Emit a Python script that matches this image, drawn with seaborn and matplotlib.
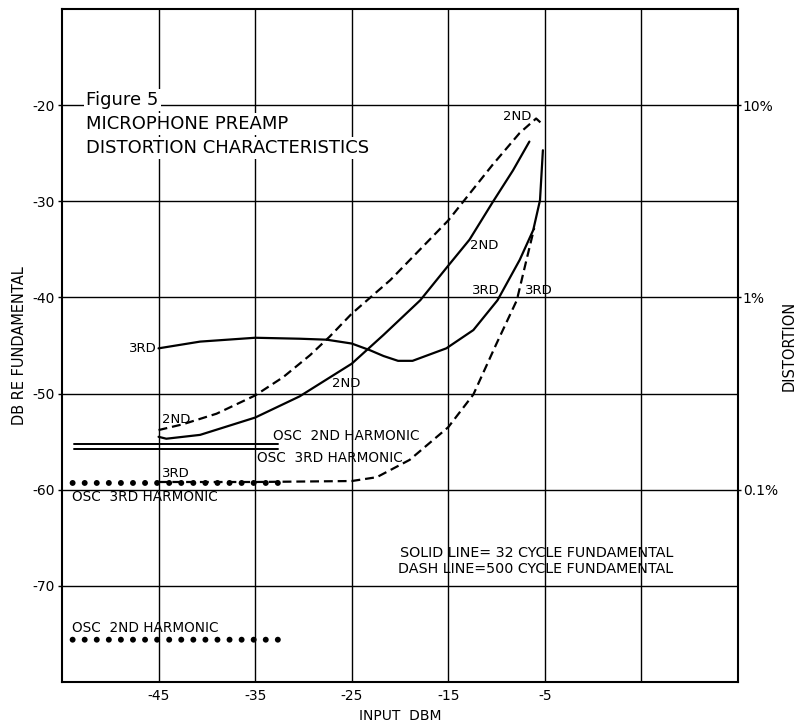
import numpy as np
import pandas as pd
import matplotlib
matplotlib.use("Agg")
import matplotlib.pyplot as plt
import seaborn as sns

# kurva distorsi
solid_2nd_x = [-45, -44.2, -40.7, -35, -30.4, -25, -21.7, -17.9, -15, -12.8, -10.4, -8.3, -6.6]
solid_2nd_y = [-54.5, -54.7, -54.3, -52.5, -50.3, -46.9, -43.9, -40.3, -36.7, -34.0, -30.1, -26.8, -23.8]

solid_3rd_x = [-45, -40.7, -35, -30.4, -27.6, -25, -23.1, -21.7, -20.2, -18.7, -15.2, -12.4, -9.9, -7.6, -6.2, -5.5, -5.2]
solid_3rd_y = [-45.3, -44.6, -44.2, -44.3, -44.4, -44.8, -45.5, -46.1, -46.6, -46.6, -45.3, -43.4, -40.3, -36.1, -33.0, -29.9, -24.7]

dash_2nd_x = [-45, -42.5, -39, -35, -32.1, -29.3, -27.3, -25, -21, -15, -10.4, -7.6, -5.9, -5.35]
dash_2nd_y = [-53.8, -53.2, -52.1, -50.2, -48.3, -46.0, -44.1, -41.7, -38.2, -32.0, -26.2, -22.9, -21.4, -21.9]

dash_3rd_x = [-45, -35, -25, -22.4, -19, -15, -12.4, -10.0, -7.9, -6.9, -6.1]
dash_3rd_y = [-59.2, -59.2, -59.1, -58.7, -56.9, -53.5, -50.1, -44.8, -40.3, -36.1, -32.8]

# harmonik osilator
osc_line_x = [-53.8, -32.6]
osc_2nd_line_y = [-55.2, -55.2]
osc_3rd_line_y = [-55.8, -55.8]

osc_dots_x = [-53.9, -52.65, -51.4, -50.15, -48.9, -47.65, -46.4, -45.15, -43.9,
              -42.65, -41.4, -40.15, -38.9, -37.65, -36.4, -35.15, -33.9, -32.65]
osc_3rd_dot_y = -59.3
osc_2nd_dot_y = -75.6

x_ticks = [-45, -35, -25, -15, -5, 5]
x_labels = ['-45', '-35', '-25', '-15', '-5', '']
y_ticks = [-70, -60, -50, -40, -30, -20]
y_labels = ['-70', '-60', '-50', '-40', '-30', '-20']
pct_ticks = [-20, -40, -60]
pct_labels = ['10%', '1%', '0.1%']

sns.set_style("white")
plt.rcParams['font.family'] = ['DejaVu Sans']
plt.rcParams['text.color'] = 'black'
plt.rcParams['axes.labelcolor'] = 'black'
plt.rcParams['xtick.color'] = 'black'
plt.rcParams['ytick.color'] = 'black'

fig = plt.figure(figsize=(7.99, 7.23), dpi=100)
ax = fig.add_axes([0.0776, 0.0567, 0.846, 0.931])

ax.set_xlim(-55, 15)
ax.set_ylim(-80, -10)
ax.set_xticks(x_ticks)
ax.set_xticklabels(x_labels)
ax.set_yticks(y_ticks)
ax.set_yticklabels(y_labels)
ax.grid(True, color='black', linewidth=1.0)
ax.tick_params(length=3, width=1, color='black', labelcolor='black', labelsize=10, pad=2)
for s in ax.spines.values():
    s.set_color('black')
    s.set_linewidth(1.5)

lw = 1.6
dash = (0, (4, 2.2))
sns.lineplot(x=solid_2nd_x, y=solid_2nd_y, ax=ax, color='black', lw=lw, sort=False, estimator=None)
sns.lineplot(x=solid_3rd_x, y=solid_3rd_y, ax=ax, color='black', lw=lw, sort=False, estimator=None)
sns.lineplot(x=dash_2nd_x, y=dash_2nd_y, ax=ax, color='black', lw=lw, linestyle=dash, sort=False, estimator=None)
sns.lineplot(x=dash_3rd_x, y=dash_3rd_y, ax=ax, color='black', lw=lw, linestyle=dash, sort=False, estimator=None)
sns.lineplot(x=osc_line_x, y=osc_2nd_line_y, ax=ax, color='black', lw=1.4, sort=False, estimator=None)
sns.lineplot(x=osc_line_x, y=osc_3rd_line_y, ax=ax, color='black', lw=1.4, sort=False, estimator=None)
sns.scatterplot(x=osc_dots_x, y=[osc_3rd_dot_y] * len(osc_dots_x), ax=ax, color='black', s=18, edgecolor='none', zorder=4)
sns.scatterplot(x=osc_dots_x, y=[osc_2nd_dot_y] * len(osc_dots_x), ax=ax, color='black', s=18, edgecolor='none', zorder=4)

# judul
wb = dict(facecolor='white', edgecolor='none', pad=1.5)
ax.text(-52.5, -20, 'Figure 5', fontsize=13, ha='left', va='baseline', bbox=wb, zorder=5)
ax.text(-52.5, -22.0, 'MICROPHONE PREAMP', fontsize=13, ha='left', va='center', bbox=wb, zorder=5)
ax.text(-52.5, -24.5, 'DISTORTION CHARACTERISTICS', fontsize=13, ha='left', va='center', bbox=wb, zorder=5)

# label kurva
fs = 9.5
ax.text(-45.2, -45.3, '3RD', fontsize=fs, ha='right', va='center')
ax.text(-6.35, -21.2, '2ND', fontsize=fs, ha='right', va='center')
ax.text(-12.8, -34.6, '2ND', fontsize=fs, ha='left', va='center')
ax.text(-12.5, -39.3, '3RD', fontsize=fs, ha='left', va='center')
ax.text(-7.1, -39.3, '3RD', fontsize=fs, ha='left', va='center')
ax.text(-27.0, -49.0, '2ND', fontsize=fs, ha='left', va='center')
ax.text(-44.65, -52.7, '2ND', fontsize=fs, ha='left', va='center')
ax.text(-44.65, -58.3, '3RD', fontsize=fs, ha='left', va='center')
ax.text(-33.15, -54.4, 'OSC  2ND HARMONIC', fontsize=9.8, ha='left', va='center')
ax.text(-34.8, -56.7, 'OSC  3RD HARMONIC', fontsize=9.8, ha='left', va='center')
ax.text(-53.96, -60.8, 'OSC  3RD HARMONIC', fontsize=9.8, ha='left', va='center')
ax.text(-53.96, -74.4, 'OSC  2ND HARMONIC', fontsize=9.8, ha='left', va='center')
ax.text(-20.0, -66.6, 'SOLID LINE= 32 CYCLE FUNDAMENTAL', fontsize=10.3, ha='left', va='center')
ax.text(-20.2, -68.2, 'DASH LINE=500 CYCLE FUNDAMENTAL', fontsize=10.3, ha='left', va='center')

ax.set_xlabel('INPUT  DBM', fontsize=10, labelpad=4)
ax.set_ylabel('DB RE FUNDAMENTAL', fontsize=10.5, labelpad=4)

ax2 = ax.twinx()
ax2.set_ylim(-80, -10)
ax2.set_yticks(pct_ticks)
ax2.set_yticklabels(pct_labels)
ax2.tick_params(length=2, width=1, color='black', labelcolor='black', labelsize=10, pad=1.5)
ax2.set_ylabel('DISTORTION', fontsize=10.5, labelpad=3)
ax2.grid(False)
for s in ax2.spines.values():
    s.set_visible(False)

fig.savefig('out.png', dpi=100)
